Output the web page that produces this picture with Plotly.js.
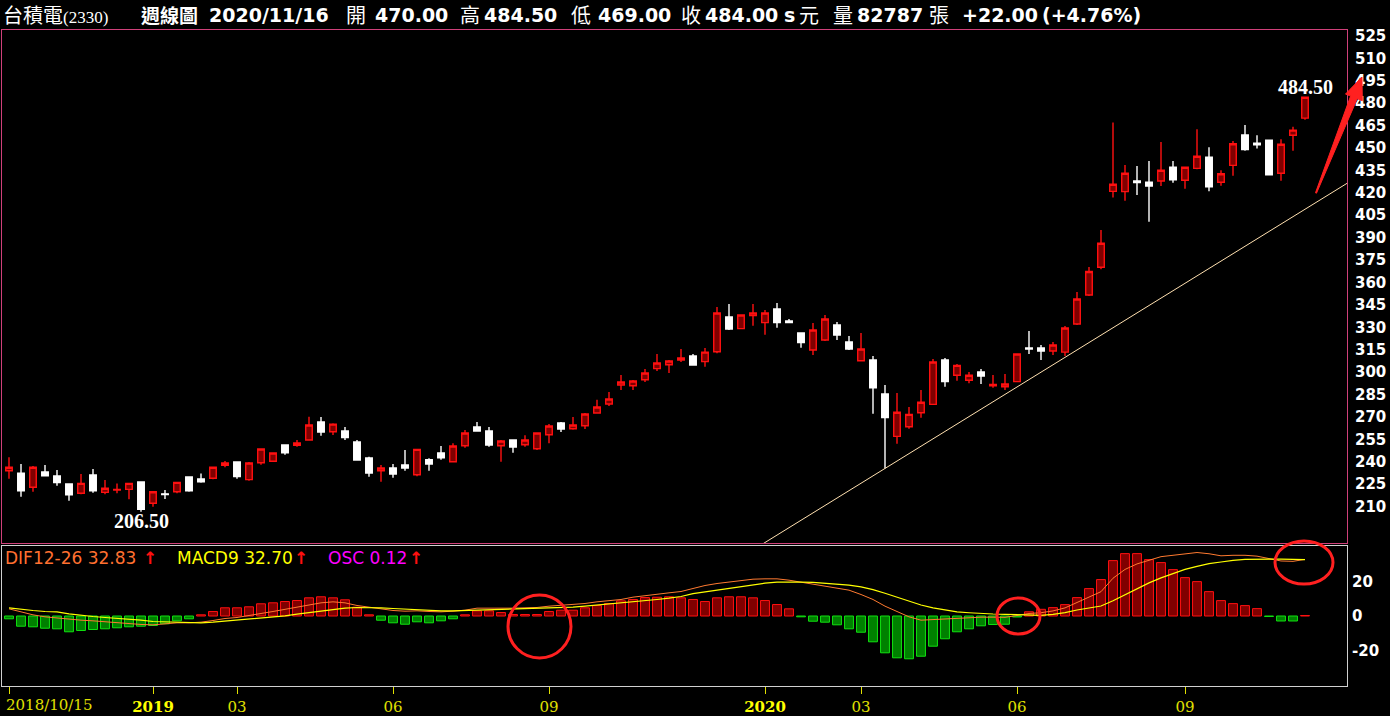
<!DOCTYPE html>
<html><head><meta charset="utf-8">
<script src="https://cdn.plot.ly/plotly-3.0.1.min.js"></script>
<style>html,body{margin:0;padding:0;background:#000;overflow:hidden}#chart{width:1390px;height:716px}</style>
</head><body><div id="chart"></div>
<script>
const dates = ["2018-10-15","2018-10-22","2018-10-29","2018-11-05","2018-11-12","2018-11-19","2018-11-26","2018-12-03","2018-12-10","2018-12-17","2018-12-24","2018-12-31",
"2019-01-07","2019-01-14","2019-01-21","2019-01-28","2019-02-11","2019-02-18","2019-02-25","2019-03-04","2019-03-11","2019-03-18","2019-03-25","2019-04-01","2019-04-08","2019-04-15","2019-04-22","2019-04-29","2019-05-06","2019-05-13","2019-05-20","2019-05-27","2019-06-03","2019-06-10","2019-06-17","2019-06-24","2019-07-01","2019-07-08","2019-07-15","2019-07-22","2019-07-29","2019-08-05","2019-08-12","2019-08-19","2019-08-26","2019-09-02","2019-09-09","2019-09-16","2019-09-23","2019-09-30","2019-10-07","2019-10-14","2019-10-21","2019-10-28","2019-11-04","2019-11-11","2019-11-18","2019-11-25","2019-12-02","2019-12-09","2019-12-16","2019-12-23","2019-12-30",
"2020-01-06","2020-01-13","2020-01-20","2020-01-27","2020-02-03","2020-02-10","2020-02-17","2020-02-24","2020-03-02","2020-03-09","2020-03-16","2020-03-23","2020-03-30","2020-04-06","2020-04-13","2020-04-20","2020-04-27","2020-05-04","2020-05-11","2020-05-18","2020-05-25","2020-06-01","2020-06-08","2020-06-15","2020-06-22","2020-06-29","2020-07-06","2020-07-13","2020-07-20","2020-07-27","2020-08-03","2020-08-10","2020-08-17","2020-08-24","2020-08-31","2020-09-07","2020-09-14","2020-09-21","2020-09-28","2020-10-05","2020-10-12","2020-10-19","2020-10-26","2020-11-02","2020-11-09","2020-11-16"];

const open = [234.0,232.4,222.9,233.1,230.4,225.1,218.9,231.1,219.5,221.0,221.5,226.4,212.2,218.5,219.9,229.8,228.4,228.9,237.6,239.8,228.0,239.3,240.3,251.2,251.0,254.5,266.6,260.1,260.6,253.2,242.5,234.0,235.8,237.8,231.3,241.3,245.8,240.0,250.7,263.2,260.6,250.7,254.5,251.4,248.7,258.1,265.9,262.1,264.1,272.6,278.6,291.4,290.9,294.9,302.3,304.9,308.1,310.8,307.0,313.6,336.9,329.1,337.8,333.1,342.2,334.2,326.2,314.8,321.5,331.5,320.1,307.6,308.1,285.3,257.0,263.4,272.8,278.4,308.1,297.9,294.5,300.1,290.9,290.2,293.6,316.1,316.1,314.1,313.4,332.2,351.6,370.2,421.0,420.8,427.9,427.1,427.9,437.1,428.4,436.4,443.8,427.1,438.4,458.7,453.2,455.2,433.1,458.5,470.0];
const high = [243.0,238.5,237.1,237.8,234.5,225.1,231.8,235.1,227.8,225.5,225.5,226.4,220.4,221.1,226.6,229.8,232.2,236.5,240.5,240.0,239.8,248.8,246.0,251.5,254.5,270.1,269.9,265.7,263.2,254.5,243.4,237.8,238.5,247.8,248.5,242.3,250.5,252.3,261.2,266.6,263.2,254.5,254.5,257.7,259.4,265.2,266.6,269.9,272.6,281.5,286.7,298.1,294.7,302.1,312.1,308.1,315.5,312.1,316.1,343.6,345.6,338.5,345.6,341.6,346.3,335.5,326.2,332.9,338.2,333.5,324.2,326.2,310.8,291.4,286.0,276.6,288.0,308.8,309.4,305.4,300.1,302.1,298.1,298.7,312.5,327.5,318.1,320.1,330.9,353.6,370.4,395.1,467.0,438.6,438.0,441.3,454.0,441.3,437.5,462.5,450.5,435.1,454.7,465.4,458.5,455.5,455.8,464.3,484.5];
const low = [228.6,216.6,219.9,230.6,223.9,213.9,218.2,219.2,218.2,218.9,214.8,206.5,209.9,215.0,218.9,219.9,226.0,228.2,236.3,228.6,227.3,238.0,240.0,244.7,250.0,254.2,257.4,257.9,254.5,241.0,230.0,226.6,229.3,234.0,230.2,234.0,241.3,240.0,249.4,260.5,250.0,240.0,246.0,250.0,247.8,252.3,259.9,261.4,261.9,272.6,277.3,288.0,288.0,293.4,300.7,299.4,306.8,304.5,303.6,312.6,328.2,328.8,331.1,325.0,329.7,333.0,316.3,311.4,320.8,321.5,314.8,307.5,272.1,235.5,252.1,262.1,269.5,278.2,290.2,294.2,292.5,292.0,289.5,288.0,293.4,312.1,308.1,311.4,310.8,331.5,350.9,368.8,416.8,414.7,418.6,400.7,424.6,426.8,422.8,435.8,421.0,424.8,431.5,448.2,449.6,432.0,428.1,448.2,469.0];
const close = [236.3,220.6,236.3,230.6,226.0,217.9,225.5,220.6,222.2,221.5,225.5,208.1,219.9,218.0,226.2,220.6,226.6,236.3,239.1,230.0,239.1,248.5,245.8,246.0,252.5,264.6,259.9,265.2,256.1,241.1,232.4,235.8,231.8,235.8,248.3,238.5,242.7,250.5,259.2,260.6,251.2,253.9,249.8,254.5,259.2,263.9,261.9,264.6,271.9,276.6,282.0,293.4,294.0,299.4,306.1,307.4,309.4,304.7,313.4,339.6,328.8,338.2,339.6,339.6,333.1,333.1,319.7,328.2,335.5,324.8,315.5,315.5,289.5,269.5,273.1,271.7,279.8,306.8,293.6,304.5,297.9,297.4,291.8,292.0,312.1,315.5,314.1,318.1,329.5,348.9,367.3,386.2,425.7,433.1,426.8,424.6,435.1,428.8,437.1,444.5,424.1,432.8,452.9,448.9,452.2,432.1,452.5,462.0,484.0];

const dif = [4.15,2.22,0.68,-0.48,-1.26,-2.03,-2.42,-2.80,-3.38,-3.57,-4.15,-4.90,-5.12,-4.35,-3.96,-3.96,-3.57,-2.61,-1.45,-0.87,0.10,1.45,2.61,3.77,5.12,6.47,7.63,8.21,7.63,6.09,5.12,3.96,3.19,2.80,3.00,2.61,2.42,2.80,3.38,4.54,4.73,4.54,4.54,4.73,4.93,5.70,6.28,6.47,7.25,8.21,8.79,9.57,10.92,11.88,12.46,13.43,14.20,
16.0,17.68,18.84,19.81,20.77,21.35,21.55,21.55,20.77,19.61,18.65,17.29,16.33,14.98,12.46,9.57,5.70,2.80,-0.48,-2.42,-2.03,-1.45,-1.06,-0.87,-0.68,-0.68,-0.78,0.29,1.45,1.9,2.95,4.7,7.9,11.2,14.1,21.9,27.0,30.2,32.2,34.4,35.2,35.9,36.8,36.1,34.9,35.2,35.2,34.7,33.1,31.9,31.7,32.83];
const macd9 = [4.73,3.77,3.19,2.61,2.42,1.26,0.29,-0.29,-0.87,-1.26,-1.64,-2.42,-3.19,-3.38,-3.57,-3.96,-3.96,-3.57,-3.00,-2.42,-1.64,-1.26,-0.48,0.10,1.06,2.03,2.80,3.57,4.54,4.93,4.93,4.73,4.35,3.96,3.57,3.38,3.00,3.00,3.19,3.57,3.96,4.15,4.35,4.54,4.73,4.73,4.93,5.12,5.70,6.28,6.86,7.44,8.02,8.79,9.57,10.34,11.30,
13.0,14.0,15.0,15.94,16.91,18.07,19.03,19.61,19.8,19.7,19.5,19.1,18.6,17.9,16.9,15.3,13.2,11.0,8.6,6.4,4.7,3.5,2.4,1.9,1.45,1.17,1.0,0.8,0.8,0.4,1.0,2.0,3.5,4.8,5.8,8.8,12.4,15.7,19.2,22.1,24.4,27.0,28.8,30.4,31.3,32.3,32.8,33.0,33.2,33.0,32.8,32.70];
const osc = [-0.65,-2.37,-2.51,-2.84,-2.98,-3.67,-3.37,-3.14,-2.98,-2.74,-2.51,-2.37,-2.21,-1.81,-1.12,-0.65,0.28,1.05,1.91,1.91,2.14,2.84,3.07,3.37,3.60,4.23,4.47,4.23,3.77,2.05,0.28,-0.98,-1.58,-1.91,-1.35,-1.58,-1.12,-0.65,0.28,1.21,1.21,0.81,0.35,0.35,0.35,1.05,1.35,1.35,1.91,2.44,2.91,3.53,3.84,4.30,4.37,4.47,4.23,3.84,
3.37,4.23,4.47,4.47,4.23,3.60,2.67,1.67,-0.19,-1.21,-1.44,-2.05,-2.98,-3.77,-6.00,-8.56,-9.72,-9.95,-9.35,-7.02,-5.30,-3.67,-2.98,-2.28,-1.98,-1.91,-0.23,0.98,
1.56,1.95,2.65,4.28,6.37,8.47,12.88,14.51,14.51,13.12,12.42,10.79,8.93,8.00,5.67,3.58,2.88,2.42,1.72,-0.12,-1.16,-1.16,0.12];

const priceTicks = [210,225,240,255,270,285,300,315,330,345,360,375,390,405,420,435,450,465,480,495,510,525];
const macdTicks = [-20,0,20];
const dateTickVals = ["2018-10-15","2019-01-07","2019-03-04","2019-06-03","2019-09-02","2020-01-06","2020-03-02","2020-06-01","2020-09-07"];
const dateTickText = ["","<b><span style='color:#ffff00'>2019</span></b>","03","06","09","<b><span style='color:#ffff00'>2020</span></b>","03","06","09"];
// trend line anchored on the March-2020 low and a later touch point
const trendIdx = [73, 108];
const trendVal = [235.5, 409.0];

const W=1390,H=716,L=2,R=43,T=30,B=30;
const pw=W-L-R, ph=H-T-B;
const PX = x => (x-L)/pw;
const PY = y => (H-B-y)/ph;

const slope=(trendVal[1]-trendVal[0])/(trendIdx[1]-trendIdx[0]);
const tx0=62.5, tx1=111.5;

const cand = {
  type:'candlestick', x:dates, open:open, high:high, low:low, close:close,
  xaxis:'x', yaxis:'y', hoverinfo:'skip', whiskerwidth:0,
  increasing:{line:{color:'#ff1010',width:1.4},fillcolor:'#800000'},
  decreasing:{line:{color:'#ffffff',width:1.4},fillcolor:'#ffffff'},
  showlegend:false
};
const bars = {
  type:'bar', x:dates, y:osc, xaxis:'x2', yaxis:'y2', width:0.74, hoverinfo:'skip',
  marker:{color:osc.map(v=>v>=0?'#800000':'#008000'), line:{color:osc.map(v=>v>=0?'#ff1010':'#10e010'),width:1}},
  showlegend:false
};
const difLine = {type:'scatter',mode:'lines',x:dates,y:dif,xaxis:'x2',yaxis:'y3',line:{color:'#ff7a30',width:1},hoverinfo:'skip',showlegend:false};
const macdLine = {type:'scatter',mode:'lines',x:dates,y:macd9,xaxis:'x2',yaxis:'y3',line:{color:'#ffff00',width:1.2},hoverinfo:'skip',showlegend:false};

const pink='#d0407a', gray='#d0d0d0';
const hdrFont = {family:'DejaVu Sans, Noto Sans CJK TC',size:19,color:'#ffffff',weight:'bold'};
const cjkFont = {family:'Noto Sans CJK TC',size:20,color:'#ffffff'};
function hdr(text,x,font){return {xref:'paper',yref:'paper',x:PX(x),y:PY(15),xanchor:'left',yanchor:'middle',text:text,showarrow:false,font:font||hdrFont};}
function leg(text,x,color,size,weight){return {xref:'paper',yref:'paper',x:PX(x),y:PY(557.5),xanchor:'left',yanchor:'middle',text:text,showarrow:false,font:{family:'DejaVu Sans',size:size||16,color:color,weight:weight||'normal'}};}

const annotations = [
  {xref:'paper',yref:'paper',x:PX(1),y:PY(15),xanchor:'left',yanchor:'middle',showarrow:false,
   text:"台積電<span style='font-family:Liberation Serif;font-size:17px'>(2330)</span>",font:cjkFont},
  hdr('週線圖',139,{family:'Noto Sans CJK TC',size:19,color:'#fff',weight:'bold'}),
  hdr('2020/11/16',207),
  hdr('開',344,cjkFont), hdr('470.00',373),
  hdr('高',458,cjkFont), hdr('484.50',482),
  hdr('低',569,cjkFont), hdr('469.00',596),
  hdr('收',679,cjkFont), hdr('484.00',703),
  hdr('s',782), hdr('元',797,cjkFont),
  hdr('量',831,cjkFont), hdr('82787',855),
  hdr('張',927,cjkFont), hdr('+22.00',960), hdr('(+4.76%)',1040),
  leg('DIF12-26 32.83',3,'#ff7030',17), leg('↑',141,'#ff1010',17,'bold'),
  leg('MACD9 32.70',175,'#ffff00',17), leg('↑',292,'#ff1010',17,'bold'),
  leg('OSC 0.12',326,'#ff00ff',17), leg('↑',407,'#ff1010',17,'bold'),
  {xref:'paper',yref:'paper',x:PX(4),y:PY(705),xanchor:'left',yanchor:'middle',showarrow:false,text:'2018/10/15',font:{family:'DejaVu Serif',size:15,color:'#e0e000'}},
  {xref:'x',yref:'y',x:dates[11],y:low[11],yshift:-9,xanchor:'center',yanchor:'middle',showarrow:false,text:'206.50',font:{family:'Liberation Serif',size:20,color:'#ffffff',weight:'bold'}},
  {xref:'x',yref:'y',x:dates[108],y:high[108],yshift:9,xanchor:'center',yanchor:'middle',showarrow:false,text:'484.50',font:{family:'Liberation Serif',size:20,color:'#ffffff',weight:'bold'}}
];

function ell(x0,y0,x1,y1){return {type:'circle',xref:'paper',yref:'paper',x0:PX(x0),x1:PX(x1),y0:PY(y1),y1:PY(y0),line:{color:'#ff2020',width:3},layer:'above'};}
const arrowPts=[[1315.5,192.8],[1350.6,96.1],[1345.5,94.1],[1362,77],[1362.3,100.7],[1357.2,98.7],[1316.5,193.2]];
const arrowPath='M'+arrowPts.map(p=>PX(p[0]).toFixed(5)+','+PY(p[1]).toFixed(5)).join(' L')+' Z';

const shapes = [
  {type:'line',xref:'x',yref:'y',x0:tx0,y0:trendVal[0]+slope*(tx0-trendIdx[0]),x1:tx1,y1:trendVal[0]+slope*(tx1-trendIdx[0]),line:{color:'#ffe0b0',width:1},layer:'above'},
  ell(508,595,571,658), ell(997,598,1040,634), ell(1275,541,1333,584),
  {type:'path',xref:'paper',yref:'paper',path:arrowPath,fillcolor:'#ff2020',line:{color:'#ff2020',width:1},layer:'above'}
];

const layout = {
  width:W,height:H,margin:{l:L,r:R,t:T,b:B},paper_bgcolor:'#000',plot_bgcolor:'#000',
  showlegend:false,hovermode:false,bargap:0,boxgap:0.22,
  xaxis:{type:'category',categoryorder:'array',categoryarray:dates,range:[-0.583,111.5],anchor:'y',domain:[0,1],
    showticklabels:false,ticks:'',showgrid:false,zeroline:false,showline:true,mirror:true,linecolor:pink,linewidth:1,
    rangeslider:{visible:false},fixedrange:true},
  yaxis:{domain:[0.218,1],range:[185.6,529.0],side:'right',anchor:'x',tickmode:'array',tickvals:priceTicks,ticktext:priceTicks.map(String),
    ticks:'',ticklabelstandoff:4,showgrid:false,zeroline:false,showline:true,mirror:true,linecolor:pink,linewidth:1,
    tickfont:{family:'DejaVu Sans',size:15,color:'#ffffff',weight:'bold'},fixedrange:true},
  xaxis2:{type:'category',categoryorder:'array',categoryarray:dates,range:[-0.583,111.5],anchor:'y2',domain:[0,1],
    tickmode:'array',tickvals:dateTickVals,ticktext:dateTickText,ticks:'outside',ticklen:7,tickwidth:1,tickcolor:'#e0e000',
    tickfont:{family:'DejaVu Serif',size:15,color:'#e0e000'},tickangle:0,
    showgrid:false,zeroline:false,showline:true,mirror:true,linecolor:gray,linewidth:1,fixedrange:true},
  yaxis2:{domain:[0,0.2134],range:[-70/4.3,70/4.3],anchor:'x2',showticklabels:false,ticks:'',showgrid:false,zeroline:false,
    showline:true,mirror:true,linecolor:gray,linewidth:1,fixedrange:true},
  yaxis3:{domain:[0,0.2134],overlaying:'y2',anchor:'x2',side:'right',range:[-70/1.725,70/1.725],tickmode:'array',tickvals:macdTicks,
    ticktext:macdTicks.map(String),ticks:'',ticklabelstandoff:4,showgrid:false,zeroline:false,showline:false,
    tickfont:{family:'DejaVu Sans',size:15,color:'#ffffff',weight:'bold'},fixedrange:true},
  annotations:annotations,shapes:shapes
};
Plotly.newPlot('chart',[cand,bars,difLine,macdLine],layout,{displayModeBar:false,staticPlot:true});
</script></body></html>
